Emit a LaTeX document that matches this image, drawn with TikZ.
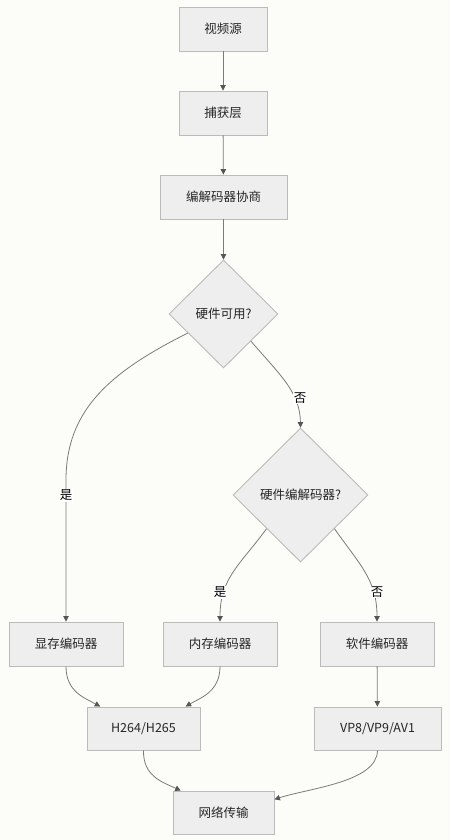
\documentclass[tikz,border=0pt]{standalone}
\usepackage{fontspec}
\setmainfont{Noto Sans CJK SC}
\usetikzlibrary{shapes.geometric,arrows.meta,calc}
\definecolor{bgc}{HTML}{FCFCF8}
\definecolor{boxfill}{HTML}{EEEEEE}
\definecolor{boxline}{HTML}{BBBBBB}
\definecolor{edgec}{HTML}{7A7A7A}
\definecolor{tipc}{HTML}{555555}
\tikzset{
  procbox/.style={draw=boxline, fill=boxfill, line width=0.9pt, rectangle, inner sep=0pt, font=\fontsize{12.5pt}{14pt}\selectfont, text=black!85},
  decbox/.style={draw=boxline, fill=boxfill, line width=0.9pt, diamond, inner sep=0pt, font=\fontsize{12.5pt}{14pt}\selectfont, text=black!85},
  edge/.style={draw=edgec, line width=0.8pt, -{Triangle[length=5.5pt,width=5.5pt,color=tipc]}},
  elabel/.style={fill=white, inner sep=1pt, font=\fontsize{12.5pt}{14pt}\selectfont, text=black}
}
\begin{document}
\begin{tikzpicture}[x=1pt,y=-1pt]
\useasboundingbox (0,0) rectangle (450,840);
\fill[bgc] (0,0) rectangle (450,840);

\node[procbox, minimum width=88pt, minimum height=44pt] (src) at (223,29) {视频源};
\node[procbox, minimum width=88pt, minimum height=44pt] (cap) at (223,113) {捕获层};
\node[procbox, minimum width=127pt, minimum height=44pt] (neg) at (223.5,197) {编解码器协商};
\node[decbox, minimum width=109pt, minimum height=108pt] (d1) at (223.5,314) {硬件可用?};
\node[decbox, minimum width=135pt, minimum height=134pt] (d2) at (300.5,495) {硬件编解码器?};
\node[procbox, minimum width=114pt, minimum height=44pt] (gpu) at (66,644) {显存编码器};
\node[procbox, minimum width=114pt, minimum height=44pt] (mem) at (220,644) {内存编码器};
\node[procbox, minimum width=114pt, minimum height=44pt] (sw) at (377,644) {软件编码器};
\node[procbox, minimum width=113pt, minimum height=43pt] (h26) at (143.5,728.5) {H264/H265};
\node[procbox, minimum width=127pt, minimum height=43pt] (vp) at (377.5,728.5) {VP8/VP9/AV1};
\node[procbox, minimum width=101pt, minimum height=43pt] (net) at (223.5,812.5) {网络传输};

\draw[edge] (src) -- (cap);
\draw[edge] (cap) -- (neg);
\draw[edge] (neg) -- (d1);

\coordinate (d1a) at ($(d1.west)!0.35!(d1.south)$);
\draw[edge] (d1a) .. controls (110,372) and (66,410) .. (66,480) -- (gpu.north);
\node[elabel] (lyes1) at (66,495) {是};

\draw[edge] (d1.south east) .. controls (280,375) and (300,392) .. (d2.north);
\node[elabel] (lno1) at (300,398) {否};

\draw[edge] (d2.south west) .. controls (240,565) and (220,578) .. (mem.north);
\node[elabel] (lyes2) at (220,592) {是};

\draw[edge] (d2.south east) .. controls (360,565) and (377,580) .. (sw.north);
\node[elabel] (lno2) at (377,592) {否};

\coordinate (h26a) at ($(h26.north west)!0.12!(h26.north east)$);
\coordinate (h26b) at ($(h26.north west)!0.87!(h26.north east)$);
\draw[edge] (gpu.south) .. controls (66,692) and (85,698) .. (h26a);
\draw[edge] (mem.south) .. controls (220,692) and (200,698) .. (h26b);
\draw[edge] (sw) -- (vp);

\coordinate (neta) at ($(net.north west)!0.08!(net.north east)$);
\coordinate (netb) at ($(net.north east)!0.2!(net.south east)$);
\draw[edge] (h26.south) .. controls (143,776) and (162,782) .. (neta);
\draw[edge] (vp.south) .. controls (377,782) and (310,788) .. (netb);
\end{tikzpicture}
\end{document}
